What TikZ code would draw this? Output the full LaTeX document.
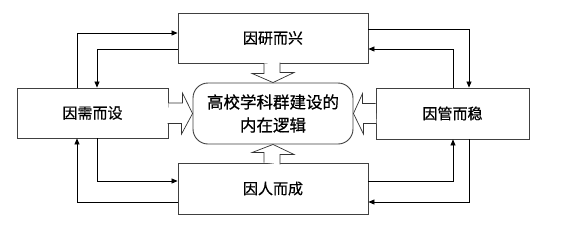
\documentclass[tikz,border=0pt]{standalone}
\usepackage{fontspec}
\newfontfamily\cjk[FakeBold=0.6]{Noto Sans CJK SC}
\usetikzlibrary{calc,arrows.meta}
\begin{document}
\begin{tikzpicture}[x=1pt,y=-1pt,
  box/.style={draw=black!75,line width=0.9pt,fill=white,inner sep=0pt,font=\cjk\fontsize{15}{18}\selectfont},
  conn/.style={draw=black,line width=0.7pt,-{Triangle[length=6pt,width=5pt]}},
  blk/.style={draw=black!80,line width=0.7pt,fill=white}]
\useasboundingbox (0,0) rectangle (574,239);
\node[box,minimum width=190pt,minimum height=50pt] (top) at (273,38) {因研而兴};
\node[box,minimum width=151pt,minimum height=50pt] (left) at (92.5,113) {因需而设};
\node[box,minimum width=153pt,minimum height=51pt] (right) at (452.5,113.5) {因管而稳};
\node[box,minimum width=190pt,minimum height=51pt] (bottom) at (273,188.5) {因人而成};
\node[box,minimum width=160pt,minimum height=61pt,rounded corners=15pt,align=center,font=\cjk\fontsize{16.5}{23}\selectfont] (center) at (273,113.5) {高校学科群建设的\\内在逻辑};
% connectors
\draw[conn] ($(left.north)+(-15.5,0)$) |- ($(top.west)+(0,-5)$);
\draw[conn] ($(top.west)+(0,11)$) -| ($(left.north)+(4.5,0)$);
\draw[conn] ($(top.east)+(0,-9)$) -| ($(right.north)+(16.5,0)$);
\draw[conn] ($(right.north)+(0.5,0)$) |- ($(top.east)+(0,11)$);
\draw[conn] ($(left.south)+(4.5,0)$) |- ($(bottom.west)+(0,-7.5)$);
\draw[conn] ($(bottom.west)+(0,13.5)$) -| ($(left.south)+(-15.5,0)$);
\draw[conn] ($(bottom.east)+(0,-7.5)$) -| ($(right.south)+(0.5,0)$);
\draw[conn] ($(right.south)+(16.5,0)$) |- ($(bottom.east)+(0,13.5)$);
% block arrows
\draw[blk] ($(top.south)+(-9,0)$) -- ++(0,10) -- ++(-12,0) -- (center.north) -- ++(21,-10) -- ++(-14,0) -- ++(0,-10);
\draw[blk] ($(bottom.north)+(-9,0)$) -- ++(0,-10) -- ++(-12,0) -- (center.south) -- ++(21,10) -- ++(-14,0) -- ++(0,10);
\draw[blk] ($(left.east)+(0,-10)$) -- ++(14,0) -- ++(0,-10) -- (center.west) -- ++(-11,20.5) -- ++(0,-10.5) -- ++(-14,0);
\draw[blk] ($(right.west)+(0,-10)$) -- ++(-13,0) -- ++(0,-10) -- (center.east) -- ++(10,20.5) -- ++(0,-10.5) -- ++(13,0);
\end{tikzpicture}
\end{document}
